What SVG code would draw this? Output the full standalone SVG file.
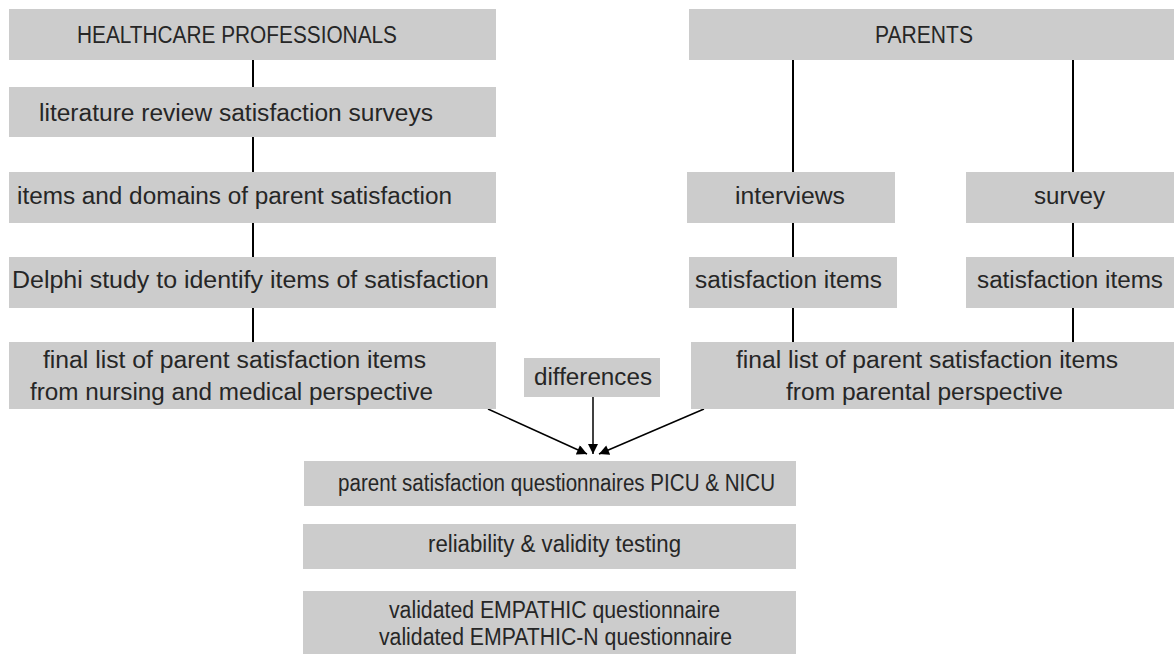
<svg xmlns="http://www.w3.org/2000/svg" width="1174" height="655" viewBox="0 0 1174 655">
<style>
.box{fill:#cccccc;stroke:none}
.t{font-family:"Liberation Sans",Arial,sans-serif;font-size:23px;fill:#262626}
.ln{stroke:#000;stroke-width:2;fill:none}
.ar{stroke:#000;stroke-width:1.5;fill:none;marker-end:url(#ah)}
</style>
<defs>
<marker id="ah" viewBox="0 0 10 10" refX="10" refY="5" markerWidth="11" markerHeight="10" markerUnits="userSpaceOnUse" orient="auto">
<path d="M0,0 L10,5 L0,10 Z" fill="#000"/>
</marker>
</defs>
<rect width="1174" height="655" fill="#fff"/>
<g id="connectors">
<line class="ln" x1="253" y1="60" x2="253" y2="87"/>
<line class="ln" x1="253" y1="137" x2="253" y2="172"/>
<line class="ln" x1="253" y1="223" x2="253" y2="257"/>
<line class="ln" x1="253" y1="308" x2="253" y2="342"/>
<line class="ln" x1="793" y1="60" x2="793" y2="172"/>
<line class="ln" x1="793" y1="223" x2="793" y2="257"/>
<line class="ln" x1="793" y1="308" x2="793" y2="342"/>
<line class="ln" x1="1073" y1="60" x2="1073" y2="172"/>
<line class="ln" x1="1073" y1="223" x2="1073" y2="257"/>
<line class="ln" x1="1073" y1="308" x2="1073" y2="342"/>
<line class="ar" x1="488" y1="409" x2="587" y2="454"/>
<line class="ar" x1="593" y1="397" x2="593" y2="454"/>
<line class="ar" x1="704" y1="409" x2="599" y2="454"/>
</g>
<g id="hcp">
<rect class="box" x="9" y="9" width="487" height="51"/>
<text class="t" x="77" y="43" textLength="320" lengthAdjust="spacingAndGlyphs">HEALTHCARE PROFESSIONALS</text>
</g>
<g id="literature">
<rect class="box" x="9" y="87" width="487" height="50"/>
<text class="t" x="39" y="121" textLength="394" lengthAdjust="spacingAndGlyphs">literature review satisfaction surveys</text>
</g>
<g id="domains">
<rect class="box" x="9" y="172" width="487" height="51"/>
<text class="t" x="17" y="204" textLength="435" lengthAdjust="spacingAndGlyphs">items and domains of parent satisfaction</text>
</g>
<g id="delphi">
<rect class="box" x="9" y="257" width="487" height="51"/>
<text class="t" x="12" y="288" textLength="477" lengthAdjust="spacingAndGlyphs">Delphi study to identify items of satisfaction</text>
</g>
<g id="finalHcp">
<rect class="box" x="9" y="342" width="487" height="67"/>
<text class="t" x="43" y="368" textLength="383" lengthAdjust="spacingAndGlyphs">final list of parent satisfaction items</text>
<text class="t" x="30" y="400" textLength="403" lengthAdjust="spacingAndGlyphs">from nursing and medical perspective</text>
</g>
<g id="parents">
<rect class="box" x="689" y="9" width="485" height="51"/>
<text class="t" x="875" y="43" textLength="98" lengthAdjust="spacingAndGlyphs">PARENTS</text>
</g>
<g id="interviews">
<rect class="box" x="687" y="172" width="208" height="51"/>
<text class="t" x="735" y="204" textLength="110" lengthAdjust="spacingAndGlyphs">interviews</text>
</g>
<g id="survey">
<rect class="box" x="966" y="172" width="208" height="51"/>
<text class="t" x="1034" y="204" textLength="71" lengthAdjust="spacingAndGlyphs">survey</text>
</g>
<g id="satItemsInterviews">
<rect class="box" x="689" y="257" width="208" height="51"/>
<text class="t" x="695" y="288" textLength="187" lengthAdjust="spacingAndGlyphs">satisfaction items</text>
</g>
<g id="satItemsSurvey">
<rect class="box" x="966" y="257" width="208" height="51"/>
<text class="t" x="977" y="288" textLength="186" lengthAdjust="spacingAndGlyphs">satisfaction items</text>
</g>
<g id="finalParents">
<rect class="box" x="691" y="342" width="483" height="67"/>
<text class="t" x="736" y="368" textLength="382" lengthAdjust="spacingAndGlyphs">final list of parent satisfaction items</text>
<text class="t" x="786" y="400" textLength="277" lengthAdjust="spacingAndGlyphs">from parental perspective</text>
</g>
<g id="differences">
<rect class="box" x="524" y="358" width="136" height="39"/>
<text class="t" x="534" y="385" textLength="118" lengthAdjust="spacingAndGlyphs">differences</text>
</g>
<g id="questionnaires">
<rect class="box" x="304" y="461" width="492" height="45"/>
<text class="t" x="338" y="491" textLength="437" lengthAdjust="spacingAndGlyphs">parent satisfaction questionnaires PICU &amp; NICU</text>
</g>
<g id="reliability">
<rect class="box" x="303" y="524" width="493" height="45"/>
<text class="t" x="428" y="552" textLength="253" lengthAdjust="spacingAndGlyphs">reliability &amp; validity testing</text>
</g>
<g id="validated">
<rect class="box" x="303" y="591" width="493" height="63"/>
<text class="t" x="389" y="618" textLength="331" lengthAdjust="spacingAndGlyphs">validated EMPATHIC questionnaire</text>
<text class="t" x="379" y="645" textLength="353" lengthAdjust="spacingAndGlyphs">validated EMPATHIC-N questionnaire</text>
</g>
</svg>
